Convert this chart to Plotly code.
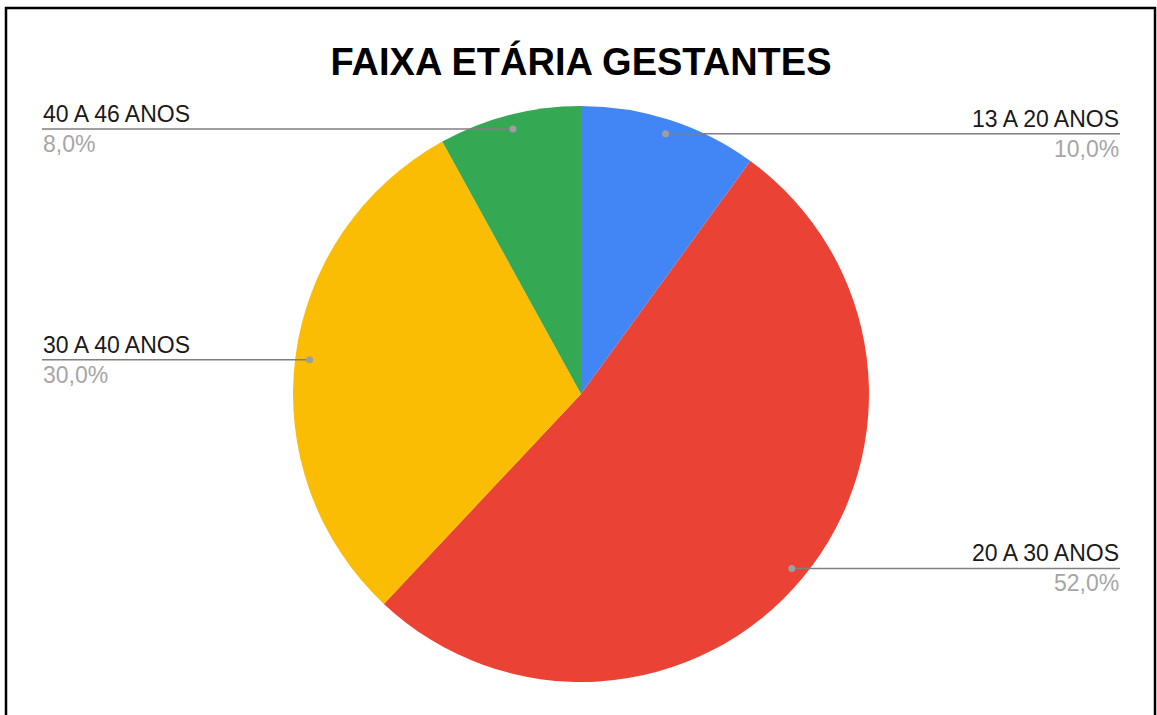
import plotly.graph_objects as go
import math

# data
labels = ["13 A 20 ANOS", "20 A 30 ANOS", "30 A 40 ANOS", "40 A 46 ANOS"]
values = [10.0, 52.0, 30.0, 8.0]
colors = ["#4285F4", "#EA4335", "#FBBC04", "#34A853"]
title = "FAIXA ETÁRIA GESTANTES"

W, H = 1157, 715
mt, mb = 106, 33
plot_h = H - mt - mb
cx, cy, R = 581, 394, 288  # pie centre / radius in pixels

def px_x(x):
    return x / W

def px_y(y):
    return (H - mb - y) / plot_h

fig = go.Figure(go.Pie(
    labels=labels, values=values, sort=False, direction="clockwise", rotation=0,
    marker=dict(colors=colors, line=dict(width=0)),
    textinfo="none", hoverinfo="label+percent",
    domain=dict(x=[(cx - R) / W, (cx + R) / W], y=[0, 1]),
))

shapes = []
annotations = []
total = sum(values)
cum = 0
for lab, v in zip(labels, values):
    mid = (cum + v / 2) / total
    cum += v
    th = 2 * math.pi * mid
    dx = cx + 0.95 * R * math.sin(th)
    dy = cy - 0.95 * R * math.cos(th)
    right = math.sin(th) > 0
    edge = 1120 if right else 42
    shapes.append(dict(type="line", xref="paper", yref="paper",
                       x0=px_x(dx), x1=px_x(edge), y0=px_y(dy), y1=px_y(dy),
                       line=dict(color="#7f7f7f", width=1.5)))
    shapes.append(dict(type="circle", xref="paper", yref="paper",
                       x0=px_x(dx - 3.5), x1=px_x(dx + 3.5),
                       y0=px_y(dy - 3.5), y1=px_y(dy + 3.5),
                       fillcolor="#9e9e9e", line=dict(width=0)))
    anchor = "right" if right else "left"
    annotations.append(dict(text=lab, x=px_x(edge), y=px_y(dy - 1), xref="paper", yref="paper",
                            xanchor=anchor, yanchor="bottom", showarrow=False,
                            font=dict(size=23, color="#1a1a1a", family="Liberation Sans, Arial"),
                            borderpad=0))
    pct = ("%.1f" % (v / total * 100)).replace(".", ",") + "%"
    annotations.append(dict(text=pct, x=px_x(edge), y=px_y(dy + 1), xref="paper", yref="paper",
                            xanchor=anchor, yanchor="top", showarrow=False,
                            font=dict(size=23, color="#a6a6a6", family="Liberation Sans, Arial"),
                            borderpad=0))

# frame round the chart
shapes.append(dict(type="rect", xref="paper", yref="paper",
                   x0=px_x(6), x1=px_x(1155), y0=px_y(8), y1=px_y(740),
                   line=dict(color="black", width=2.5)))

fig.update_layout(
    width=W, height=H,
    margin=dict(l=0, r=0, t=mt, b=mb),
    paper_bgcolor="white", plot_bgcolor="white",
    showlegend=False,
    title=dict(text="<b>" + title + "</b>", x=cx / W, xanchor="center",
               y=1 - 62 / H, yanchor="middle",
               font=dict(size=38, color="black", family="Liberation Sans, Arial")),
    shapes=shapes, annotations=annotations,
)

fig.write_html("out.html", config={"displayModeBar": False},
               post_script="document.body.style.margin='0';")
